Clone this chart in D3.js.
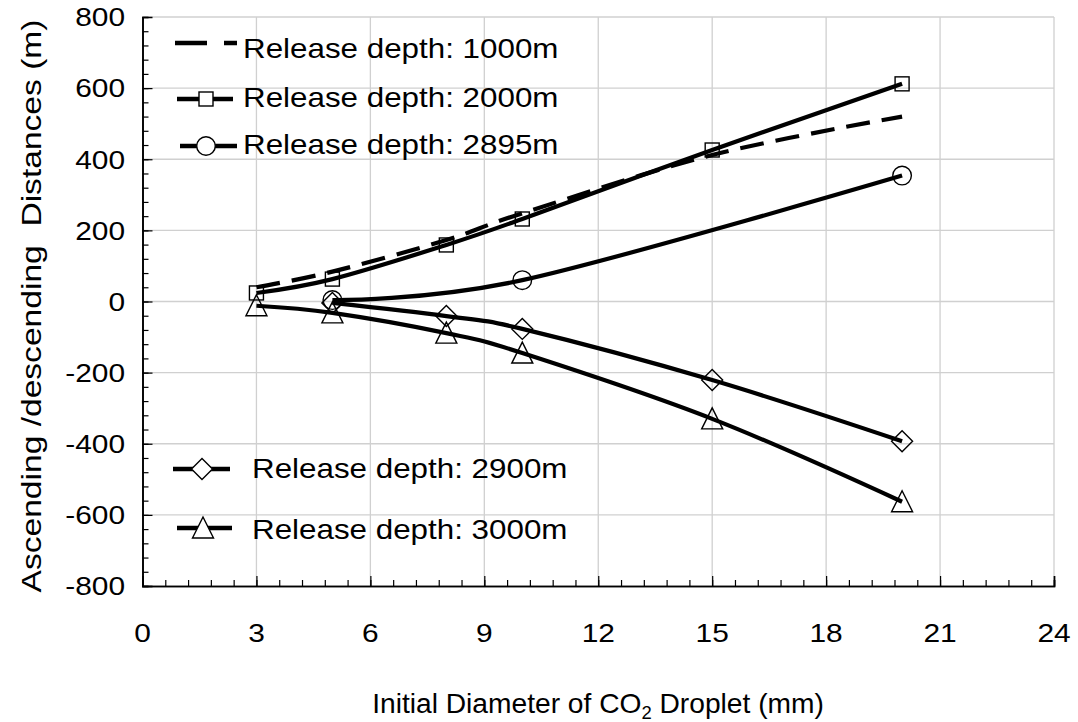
<!DOCTYPE html>
<html><head><meta charset="utf-8">
<script src="https://cdn.jsdelivr.net/npm/d3@7"></script>
<style>body{margin:0;background:#fff;} text{font-family:"Liberation Sans",Arial,sans-serif;fill:#000;}</style>
</head><body><svg id="c" width="1078" height="722"></svg>
<script>
const xTicks = [0,3,6,9,12,15,18,21,24];
const yTicks = [-800,-600,-400,-200,0,200,400,600,800];
const d1000x = [3,5,8,10,15,20];
const d1000y = [40,84,173,248,412,520];
const d2000x = [3,5,8,10,15,20];
const d2000y = [24,63,159,232,426,612];
const d2895x = [5,10,20];
const d2895y = [4,60,354];
const d2900x = [5,8,10,15,20];
const d2900y = [-4,-41,-77,-221,-393];
const d3000x = [3,5,8,10,15,20];
const d3000y = [-12,-32,-89,-145,-330,-563];
const seriesNames = ["Release depth: 1000m","Release depth: 2000m","Release depth: 2895m","Release depth: 2900m","Release depth: 3000m"];

const svg = d3.select("#c");
const L=142.5, R=1054, T=17, B=586;
const x = d3.scaleLinear().domain([0,24]).range([L,R]);
const y = d3.scaleLinear().domain([-800,800]).range([B,T]);

function stext(px,py,str,size,sx,anchor){
  return svg.append("text").attr("transform",`translate(${px},${py}) scale(${sx},1)`)
    .attr("font-size",size).attr("text-anchor",anchor||"start").text(str);
}

// grid
svg.append("g").selectAll("line").data(xTicks.slice(1)).join("line")
  .attr("x1",d=>x(d)).attr("x2",d=>x(d)).attr("y1",T).attr("y2",B)
  .attr("stroke","#d0d0d0").attr("stroke-width",1.3);
svg.append("g").selectAll("line").data(yTicks.slice(1)).join("line")
  .attr("x1",L).attr("x2",R).attr("y1",d=>y(d)).attr("y2",d=>y(d))
  .attr("stroke","#d0d0d0").attr("stroke-width",1.3);

// axes
const minorX = d3.range(0,24.001,0.6);
const minorY = d3.range(-800,800.001,40);
const gx = svg.append("g").attr("transform",`translate(0,${B})`)
  .call(d3.axisBottom(x).tickValues(minorX).tickSize(-6).tickFormat(""));
const gx2 = svg.append("g").attr("transform",`translate(0,${B})`)
  .call(d3.axisBottom(x).tickValues(xTicks).tickSize(-10).tickFormat(""));
const gy = svg.append("g").attr("transform",`translate(${L},0)`)
  .call(d3.axisLeft(y).tickValues(minorY).tickSize(-6).tickFormat(""));
const gy2 = svg.append("g").attr("transform",`translate(${L},0)`)
  .call(d3.axisLeft(y).tickValues(yTicks.slice(0,-1)).tickSize(-10).tickFormat(""));
[gx,gx2,gy,gy2].forEach(g=>{g.selectAll("path").attr("stroke","#000").attr("stroke-width",1.6);
  g.selectAll("line").attr("stroke","#000").attr("stroke-width",1.2);});

// tick labels
xTicks.forEach(v=>stext(x(v),642,String(v),26,1.15,"middle"));
yTicks.forEach(v=>stext(125,y(v)+9.3,String(v),26,1.15,"end"));

// titles
const xt = svg.append("text").attr("transform","translate(598,713) scale(1.025,1)")
  .attr("text-anchor","middle").attr("font-size",27.5);
xt.append("tspan").text("Initial Diameter of CO");
xt.append("tspan").text("2").attr("font-size",18).attr("dy",6);
xt.append("tspan").text(" Droplet (mm)").attr("dy",-6);
svg.append("text").attr("transform","translate(41,306) rotate(-90) scale(1.2,1)").attr("text-anchor","middle")
  .attr("font-size",28).style("white-space","pre").text("Ascending /descending  Distances (m)");

// series
const line = d3.line().x(d=>x(d[0])).y(d=>y(d[1])).curve(d3.curveCardinal.tension(0));
function drawSeries(xs,ys,dash){
  svg.append("path").datum(xs.map((v,i)=>[v,ys[i]])).attr("d",line)
    .attr("fill","none").attr("stroke","#000").attr("stroke-width",4.2)
    .attr("stroke-dasharray",dash||null);
}
function marker(g,type,cx,cy){
  if(type==="square") g.append("rect").attr("x",cx-7).attr("y",cy-7).attr("width",14).attr("height",14);
  else if(type==="circle") g.append("circle").attr("cx",cx).attr("cy",cy).attr("r",9.3);
  else if(type==="diamond") g.append("path").attr("d",`M${cx},${cy-10.5}L${cx+10.5},${cy}L${cx},${cy+10.5}L${cx-10.5},${cy}Z`);
  else if(type==="triangle") g.append("path").attr("d",`M${cx},${cy-11}L${cx+10.5},${cy+10}L${cx-10.5},${cy+10}Z`);
}
function drawMarkers(xs,ys,type){
  const g = svg.append("g").attr("fill","none").attr("stroke","#000").attr("stroke-width",1.4);
  xs.forEach((v,i)=>marker(g,type,x(v),y(ys[i])));
}
drawSeries(d1000x,d1000y,"24,12");
drawSeries(d2000x,d2000y); drawMarkers(d2000x,d2000y,"square");
drawSeries(d2895x,d2895y); drawMarkers(d2895x,d2895y,"circle");
drawSeries(d2900x,d2900y); drawMarkers(d2900x,d2900y,"diamond");
drawSeries(d3000x,d3000y); drawMarkers(d3000x,d3000y,"triangle");

// legend
const leg = [
  {x1:175,x2:237,y:43,type:null,dash:"32,17",tx:243,ty:58},
  {x1:177,x2:233,y:99,mx:206,type:"square",tx:243,ty:107},
  {x1:180,x2:237,y:146,mx:206,type:"circle",tx:243,ty:154},
  {x1:173,x2:230,y:469,mx:202,type:"diamond",tx:252,ty:478},
  {x1:177,x2:232,y:528,mx:203,type:"triangle",tx:252,ty:539}
];
leg.forEach((l,i)=>{
  svg.append("line").attr("x1",l.x1).attr("x2",l.x2).attr("y1",l.y).attr("y2",l.y)
    .attr("stroke","#000").attr("stroke-width",4.5).attr("stroke-dasharray",l.dash||null);
  if(l.type){
    const g = svg.append("g").attr("fill","#fff").attr("stroke","#000").attr("stroke-width",1.4);
    marker(g,l.type,l.mx,l.y);
  }
  stext(l.tx,l.ty,seriesNames[i],28,1.12,"start");
});
</script></body></html>
